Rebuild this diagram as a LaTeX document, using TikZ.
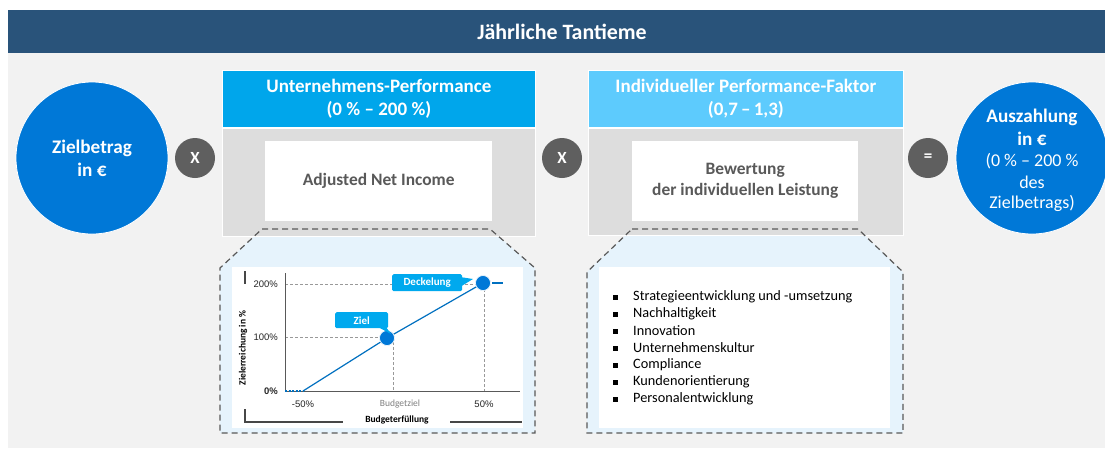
\documentclass[tikz,border=0pt]{standalone}
\usepackage{fontspec}
\setmainfont{Carlito}
\newfontfamily\arialf{Liberation Sans}
\definecolor{hdrblue}{HTML}{29537A}
\definecolor{bggray}{HTML}{F2F2F2}
\definecolor{circblue}{HTML}{0078D7}
\definecolor{headA}{HTML}{00A6EB}
\definecolor{headB}{HTML}{5DCBFD}
\definecolor{boxgray}{HTML}{DDDDDD}
\definecolor{opgray}{HTML}{5F5F5F}
\definecolor{txtgray}{HTML}{595959}
\definecolor{paleblue}{HTML}{E6F3FC}
\definecolor{lineblue}{HTML}{0070C0}
\definecolor{tagblue}{HTML}{00A9EE}
\tikzset{
  bigcirc/.style={circle, fill=circblue, draw=white, line width=0.8pt, minimum size=152pt, inner sep=0pt, text=white, align=center},
  opcirc/.style={circle, fill=opgray, minimum size=40pt, inner sep=0pt, text=white, font=\bfseries\fontsize{17}{18}\selectfont},
  headbox/.style={rectangle, draw=white, line width=0.8pt, inner sep=0pt, text=white, align=center, font=\bfseries\fontsize{19}{23}\selectfont},
  graybox/.style={rectangle, fill=boxgray, draw=white, line width=0.8pt, inner sep=0pt},
  whitebox/.style={rectangle, fill=white, inner sep=0pt, text=txtgray, align=center, font=\bfseries\fontsize{17.4}{21}\selectfont},
  dashshape/.style={draw=txtgray, line width=1.2pt, dash pattern=on 6pt off 4pt},
  bullettext/.style={anchor=west, inner sep=0pt, font=\fontsize{14.3}{16}\selectfont, text=black},
  bulletsq/.style={rectangle, fill=black, minimum size=5pt, inner sep=0pt},
  axlabel/.style={inner sep=0pt, font=\arialf\fontsize{9.5}{10}\selectfont, text=black!85},
  tag/.style={rectangle, fill=tagblue, rounded corners=1.5pt, text=white, inner sep=0pt, font=\bfseries\fontsize{11}{12}\selectfont},
  guide/.style={draw=gray!80, line width=0.7pt, dash pattern=on 3pt off 2pt},
  dot/.style={circle, fill=circblue, draw=white, line width=0.6pt, minimum size=15pt, inner sep=0pt},
  bracket/.style={draw=txtgray!80!black, line width=2.2pt},
  circtext/.style={text=white, inner sep=0pt}
}
\begin{document}
\begin{tikzpicture}[x=1pt,y=-1pt]
\useasboundingbox (0,0) rectangle (1105,448);
\fill[white] (0,0) rectangle (1105,448);
% background
\fill[bggray] (8,53) rectangle (1105,448);
\fill[hdrblue] (8,10) rectangle (1105,53);
\node[text=white, font=\bfseries\fontsize{21.9}{24}\selectfont] (title) at (562,32) {Jährliche Tantieme};

% lower dashed panels (fill)
\fill[paleblue] (262,229) -- (490,229) -- (535,268) -- (535,433) -- (220,433) -- (220,268) -- cycle;
\fill[paleblue] (632,229) -- (858,229) -- (903,272) -- (903,433) -- (587,433) -- (587,272) -- cycle;

% left circle
\node[bigcirc, font=\bfseries\fontsize{19.2}{23}\selectfont] (ziel) at (92,158) {Zielbetrag\\in €};
\node[opcirc] (x1) at (195,158) {X};

% Unternehmens-Performance
\node[headbox, fill=headA, minimum width=313pt, minimum height=57pt, anchor=north west] (hA) at (222,70) {Unternehmens-Performance\\(0 \% – 200 \%)};
\node[graybox, minimum width=313pt, minimum height=108pt, anchor=north west] (gA) at (222,128) {};
\node[whitebox, minimum width=227pt, minimum height=80pt, anchor=north west] (wA) at (265,141) {Adjusted Net Income};

\node[opcirc] (x2) at (562,158) {X};

% Individueller Performance-Faktor
\node[headbox, fill=headB, minimum width=315pt, minimum height=57pt, anchor=north west] (hB) at (588,70) {Individueller Performance-Faktor\\(0,7\,–\,1,3)};
\node[graybox, minimum width=315pt, minimum height=107pt, anchor=north west] (gB) at (588,128) {};
\node[whitebox, minimum width=226pt, minimum height=80pt, anchor=north west] (wB) at (632,141) {Bewertung\\der individuellen Leistung};

\node[opcirc] (eq) at (928,158) {=};

% right circle
\node[bigcirc] (aus) at (1032,158) {};
\node[circtext, font=\bfseries\fontsize{19.2}{20}\selectfont] (aus1) at (1032,117) {Auszahlung};
\node[circtext, font=\bfseries\fontsize{19.2}{20}\selectfont] (aus2) at (1032,139) {in €};
\node[circtext, font=\fontsize{18}{19}\selectfont] (aus3) at (1032,161) {(0 \% – 200 \%};
\node[circtext, font=\fontsize{18}{19}\selectfont] (aus4) at (1032,182) {des};
\node[circtext, font=\fontsize{18}{19}\selectfont] (aus5) at (1032,203) {Zielbetrags)};

% dashed outlines
\draw[dashshape] (262,229) -- (490,229) -- (535,268) -- (535,433) -- (220,433) -- (220,268) -- cycle;
\draw[dashshape] (632,229) -- (858,229) -- (903,272) -- (903,433) -- (587,433) -- (587,272) -- cycle;

% white inner panels
\node[rectangle, fill=white, inner sep=0pt, minimum width=291pt, minimum height=161pt, anchor=north west] (pA) at (232,267) {};
\node[rectangle, fill=white, inner sep=0pt, minimum width=291pt, minimum height=161pt, anchor=north west] (pB) at (599,267) {};

% ---- chart ----
\coordinate (o) at (285,391);
\coordinate (ytop) at (285,273);
\coordinate (xend) at (520,391);
\draw[guide] (285,284) -- (484,284);
\draw[guide] (285,337) -- (393,337);
\draw[guide] (393,337) -- (393,391);
\draw[guide] (484,284) -- (484,391);
\draw[txtgray, line width=1pt] (ytop) -- (o) -- (xend);
\draw[bracket] (245,271) -- (245,284);
\draw[bracket] (245,409) -- (245,422) -- (343,422);
\draw[bracket] (450,422) -- (522,422);
\coordinate (l0) at (303,391);
\draw[lineblue, line width=1.2pt, dash pattern=on 2pt off 1.5pt] (o) -- (l0);
\node[dot] (dz) at (387,338) {};
\node[dot] (dd) at (483,283) {};
\coordinate (lstart) at (492,283);
\coordinate (lend) at (503,283);
\draw[lineblue, line width=1.2pt] (l0) -- (dz.center) -- (dd.center);
\draw[lineblue, line width=1.2pt] (lstart) -- (lend);
\node[dot] at (387,338) {};
\node[dot] at (483,283) {};

\node[axlabel, anchor=east] (t200) at (278,284) {200\%};
\node[axlabel, anchor=east] (t100) at (278,337) {100\%};
\node[axlabel, anchor=east, font=\arialf\bfseries\fontsize{9.5}{10}\selectfont] (t0) at (278,391) {0\%};
\node[axlabel] (tm50) at (303,404) {-50\%};
\node[axlabel, font=\fontsize{9.5}{10}\selectfont, text=gray] (tbz) at (400,404) {Budgetziel};
\node[axlabel] (t50) at (484,404) {50\%};
\node[inner sep=0pt, font=\bfseries\fontsize{9.5}{10}\selectfont] (xlab) at (397,420) {Budgeterfüllung};
\node[inner sep=0pt, rotate=90, font=\bfseries\fontsize{9.5}{10}\selectfont] (ylab) at (243,348) {Zielerreichung in \%};

% tags
\fill[tagblue] (378,327) -- (386,327) -- (391,334) -- cycle;
\node[tag, minimum width=53pt, minimum height=16pt, anchor=north west] (tz) at (335,312) {Ziel};
\fill[tagblue] (460,277) -- (473,279) -- (460,287) -- cycle;
\node[tag, minimum width=70pt, minimum height=17pt, anchor=north west] (td) at (392,274) {Deckelung};

% ---- bullets ----
\foreach \t [count=\i from 0] in {Strategieentwicklung und -umsetzung, Nachhaltigkeit, Innovation, Unternehmenskultur, Compliance, Kundenorientierung, Personalentwicklung}{
  \node[bulletsq] (b\i) at (615,297+\i*17) {};
  \node[bullettext] (bt\i) at (633,297+\i*17) {\t};
}
\end{tikzpicture}
\end{document}
